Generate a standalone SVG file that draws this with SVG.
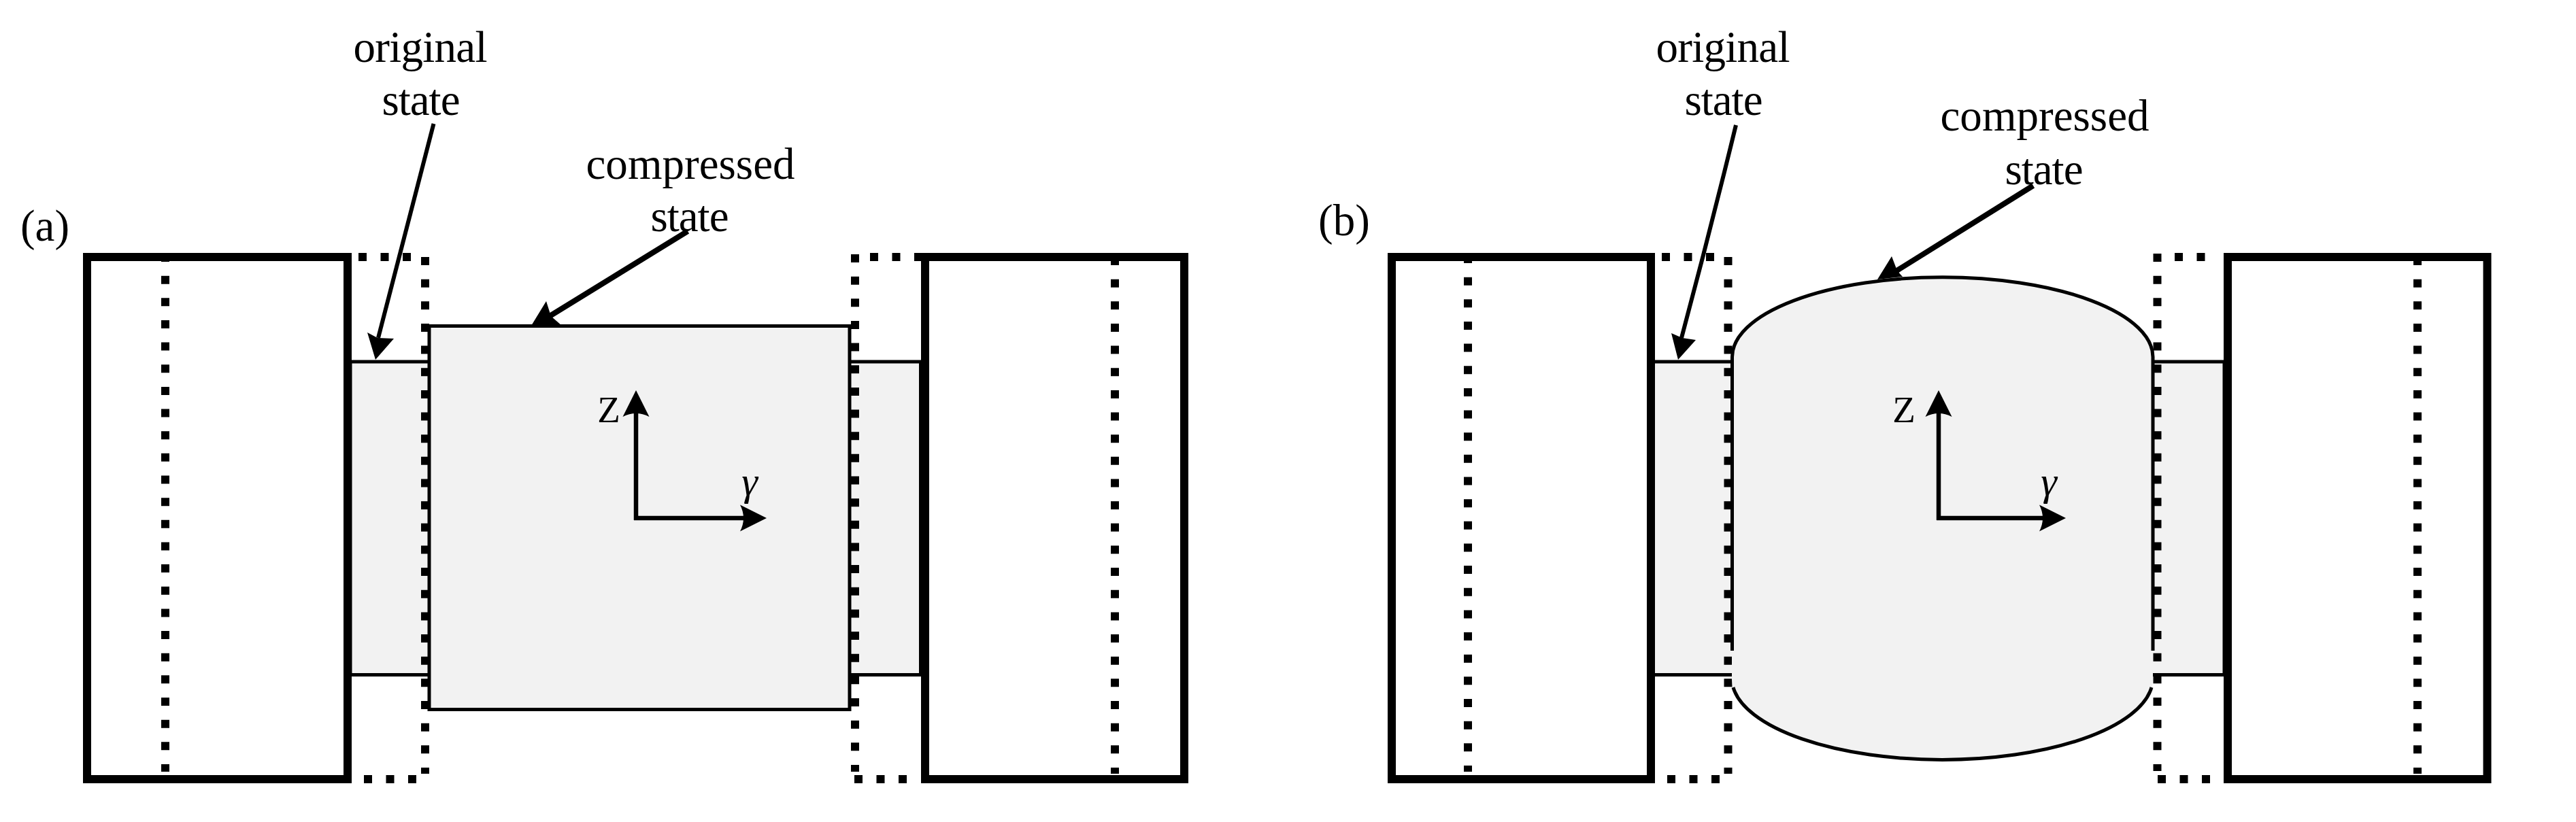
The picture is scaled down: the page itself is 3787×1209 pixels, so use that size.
<svg xmlns="http://www.w3.org/2000/svg" width="3787" height="1209" viewBox="0 0 3787 1209">
<style>
.block{fill:none;stroke:#000;stroke-width:12}
.dv{fill:none;stroke:#000;stroke-width:12;stroke-dasharray:12 20.65}
.dh{fill:none;stroke:#000;stroke-width:12;stroke-dasharray:12 20.5}
.gray{fill:#f2f2f2;stroke:#000;stroke-width:5}
.fillonly{fill:#f2f2f2;stroke:none}
.edge{fill:none;stroke:#000;stroke-width:5}
.stem{fill:none;stroke:#000;stroke-width:6}
.stem2{fill:none;stroke:#000;stroke-width:8}
.axis{fill:none;stroke:#000;stroke-width:6.5;marker-end:url(#head)}
.head{fill:#000;stroke:none}
text{font-family:"Liberation Serif","Times New Roman",serif;font-size:65px;fill:#000;text-anchor:middle}
.sm{font-size:55px}
.it{font-style:italic;font-size:60px}
</style>
<defs>
<marker id="head" markerUnits="userSpaceOnUse" markerWidth="40" markerHeight="40" viewBox="0 0 40 40" refX="10" refY="20" orient="auto">
<path d="M0 .5L39 20L0 39.5Q10 20 0 .5Z" fill="#000"/>
</marker>
</defs>
<rect width="3787" height="1209" fill="#fff"/>
<g id="panel-a">
<g id="a-original-state">
<rect class="gray" x="515" y="532" width="838.5" height="460.5"/>
</g>
<g id="a-guides">
<line class="dv" x1="243" y1="373" x2="243" y2="1135"/>
<line class="dv" x1="1639" y1="378" x2="1639" y2="1138"/>
<line class="dv" x1="625" y1="378" x2="625" y2="1138"/>
<line class="dv" x1="1257" y1="374" x2="1257" y2="1135"/>
<line class="dh" x1="527" y1="378" x2="604" y2="378"/>
<line class="dh" x1="535" y1="1146" x2="612" y2="1146"/>
<line class="dh" x1="1279" y1="378" x2="1357" y2="378"/>
<line class="dh" x1="1256" y1="1146" x2="1334" y2="1146"/>
</g>
<g id="a-block-left"><rect class="block" x="128" y="378" width="383" height="768"/></g>
<g id="a-block-right"><rect class="block" x="1360" y="378" width="381" height="768"/></g>
<g id="a-compressed-state"><rect class="gray" x="631" y="479.5" width="618" height="564"/></g>
<g id="a-labels">
<text x="618" y="91" textLength="197">original</text>
<text x="619" y="169" textLength="115">state</text>
<text x="1015" y="263" textLength="307">compressed</text>
<text x="1014" y="340" textLength="115">state</text>
<text x="66" y="354">(a)</text>
<text class="sm" x="895" y="621">Z</text>
<text class="sm it" x="1102" y="728">γ</text>
</g>
</g>
<g id="panel-b">
<g id="b-original-state">
<rect class="gray" x="2430" y="532" width="840" height="460.5"/>
</g>
<g id="b-guides">
<line class="dv" x1="2158" y1="375" x2="2158" y2="1135"/>
<line class="dv" x1="3554" y1="378" x2="3554" y2="1138"/>
<line class="dv" x1="2540.5" y1="378" x2="2540.5" y2="1138"/>
<line class="dv" x1="3171.5" y1="373" x2="3171.5" y2="1134"/>
<line class="dh" x1="2443" y1="378" x2="2520" y2="378"/>
<line class="dh" x1="2451" y1="1146" x2="2528" y2="1146"/>
<line class="dh" x1="3197" y1="378" x2="3243" y2="378"/>
<line class="dh" x1="3172" y1="1146" x2="3249" y2="1146"/>
</g>
<g id="b-block-left"><rect class="block" x="2046" y="378" width="381" height="768"/></g>
<g id="b-block-right"><rect class="block" x="3275" y="378" width="381.5" height="768"/></g>
<g id="b-compressed-state">
<path class="fillonly" d="M2546 525A309.5 117 0 0 1 3165 525V1000A309.5 118.5 0 0 1 2546 1000Z"/>
<path class="edge" d="M2546.5 957V525A308.5 117 0 0 1 3165 525V957"/>
<path class="edge" d="M2548 1011A309.5 120 0 0 0 3163 1011"/>
</g>
<g id="b-labels">
<text x="2533" y="91" textLength="197">original</text>
<text x="2534" y="169" textLength="115">state</text>
<text x="3006" y="192" textLength="307">compressed</text>
<text x="3005" y="271" textLength="115">state</text>
<text x="1976" y="346">(b)</text>
<text class="sm" x="2799" y="621">Z</text>
<text class="sm it" x="3012" y="728">γ</text>
</g>
</g>
<g id="connectors">
<line class="stem" x1="637.5" y1="182" x2="556" y2="497"/>
<polygon class="head" points="552,529 540,489 555,497 579,498"/>
<line class="stem2" x1="1011" y1="340" x2="808" y2="465"/>
<polygon class="head" points="781,479 803,443 810,465 826,479"/>
<line class="axis" x1="935" y1="765" x2="935" y2="603"/>
<line class="axis" x1="932" y1="762" x2="1098" y2="762"/>
<path class="stem" d="M2552 184Q2514 340 2472 497"/>
<polygon class="head" points="2467,529 2457,490 2473,497 2493,500"/>
<line class="stem2" x1="2989" y1="273" x2="2787" y2="399"/>
<polygon class="head" points="2760,411 2781,377 2789,398 2797,407"/>
<line class="axis" x1="2850" y1="765" x2="2850" y2="603"/>
<line class="axis" x1="2847" y1="762" x2="3008" y2="762"/>
</g>
</svg>
